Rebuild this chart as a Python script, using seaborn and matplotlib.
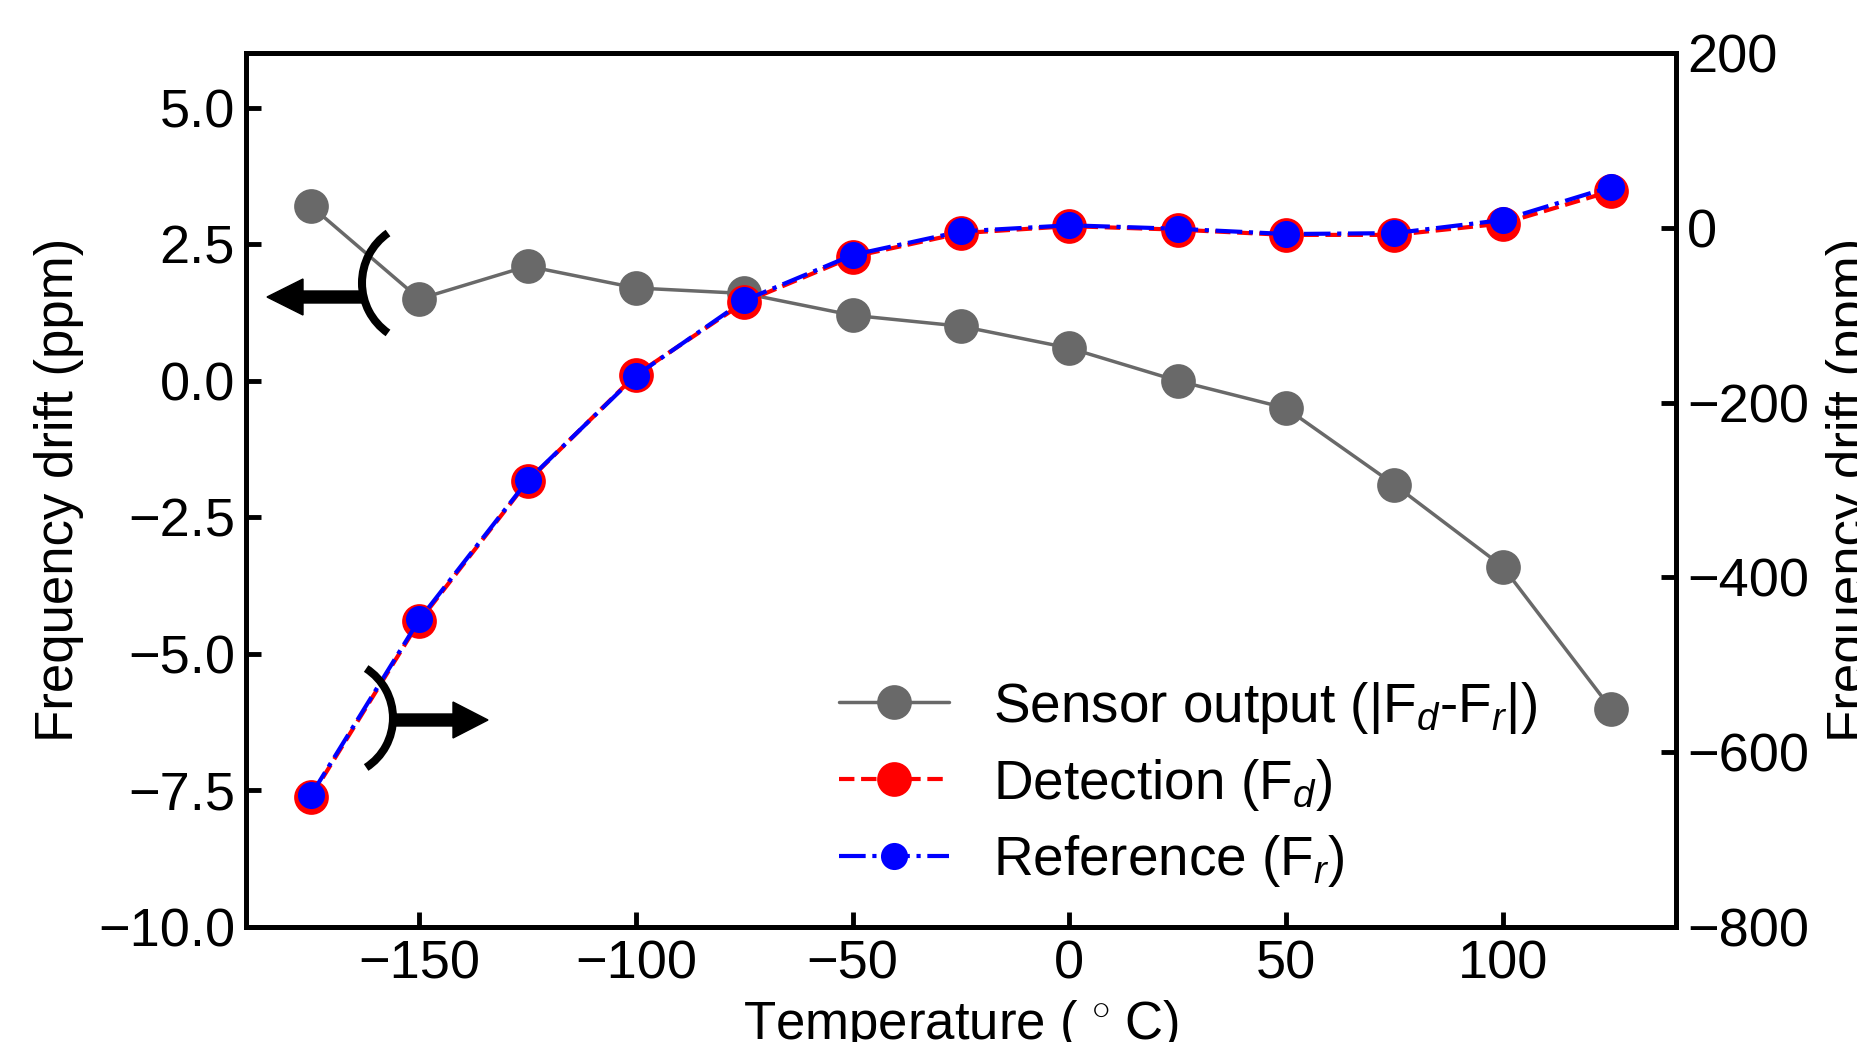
import matplotlib
matplotlib.use("Agg")
import matplotlib.pyplot as plt
import seaborn as sns
import pandas as pd
from matplotlib.patches import Arc, FancyArrow
from matplotlib.transforms import Affine2D
from matplotlib.ticker import FuncFormatter

# Measured drift versus temperature
temperature = [-175, -150, -125, -100, -75, -50, -25, 0, 25, 50, 75, 100, 125]
sensor_output = [3.2, 1.5, 2.1, 1.7, 1.6, 1.2, 1.0, 0.6, 0.0, -0.5, -1.9, -3.4, -6.0]
detection = [-651, -450, -290, -168, -85, -33, -6, 2, -2, -8, -8, 5, 42]
reference = [-649, -448, -289, -169, -83, -31, -4, 3, -1, -7, -6, 9, 47]

x_ticks = [-150, -100, -50, 0, 50, 100]
left_ticks = [-10.0, -7.5, -5.0, -2.5, 0.0, 2.5, 5.0]
right_ticks = [-800, -600, -400, -200, 0, 200]

label_sensor = r"Sensor output (|F$_d$-F$_r$|)"
label_detection = r"Detection (F$_d$)"
label_reference = r"Reference (F$_r$)"

df = pd.DataFrame({"T": temperature, "sensor": sensor_output,
                   "det": detection, "ref": reference})

sns.set_style("ticks")
plt.rcParams["font.family"] = ["Liberation Sans", "DejaVu Sans"]
plt.rcParams["mathtext.fontset"] = "custom"
plt.rcParams["mathtext.rm"] = "Liberation Sans"
plt.rcParams["mathtext.it"] = "Liberation Sans:italic"
plt.rcParams["mathtext.bf"] = "Liberation Sans:bold"
for key in ("text.color", "axes.labelcolor", "xtick.color", "ytick.color",
            "axes.edgecolor"):
    plt.rcParams[key] = "black"

W, H = 1857, 1042
TICK_FS = 39
LABEL_FS = 38
LEGEND_FS = 39.5
fig = plt.figure(figsize=(W / 100, H / 100), dpi=100)
ax = fig.add_axes([0.1325, 0.1104, 0.77, 0.8386])
ax2 = ax.twinx()
ax2.set_position(ax.get_position())

sns.lineplot(data=df, x="T", y="sensor", ax=ax, color="dimgray", linewidth=2.5,
             marker="o", markersize=25, markeredgewidth=0, label=label_sensor,
             legend=False)
sns.lineplot(data=df, x="T", y="det", ax=ax2, color="red", linewidth=3,
             linestyle="--", marker="o", markersize=25, markeredgewidth=0,
             label=label_detection, legend=False)
sns.lineplot(data=df, x="T", y="ref", ax=ax2, color="blue", linewidth=3,
             linestyle="-.", marker="o", markersize=19.5, markeredgewidth=0,
             label=label_reference, legend=False)

ax.set_xlim(-190, 140)
ax.set_ylim(-10, 6)
ax2.set_ylim(-800, 200)
ax.set_xticks(x_ticks)
ax.set_yticks(left_ticks)
ax2.set_yticks(right_ticks)
ax.yaxis.set_major_formatter(
    FuncFormatter(lambda v, _: f"{v:.1f}".replace("-", "\u2212")))

for a in (ax, ax2):
    for s in a.spines.values():
        s.set_linewidth(3.5)
        s.set_color("black")
    a.tick_params(direction="in", length=11, width=3.5, labelsize=TICK_FS,
                  pad=8, color="black")
ax.tick_params(axis="x", top=False, pad=9)
ax.tick_params(axis="y", right=False)
ax2.tick_params(axis="y", left=False, right=True)

ax.set_xlabel(r"Temperature ($\,^\circ\,$C)", fontsize=LABEL_FS, labelpad=6)
ax.set_ylabel("Frequency drift (ppm)", fontsize=LABEL_FS, labelpad=10)
ax2.set_ylabel("Frequency drift (ppm)", fontsize=LABEL_FS, labelpad=12)

h1, l1 = ax.get_legend_handles_labels()
h2, l2 = ax2.get_legend_handles_labels()
leg = ax2.legend(h1 + h2, l1 + l2, loc="center left",
                 bbox_to_anchor=(0.415, 0.163), frameon=False,
                 fontsize=LEGEND_FS, handlelength=2.0, handletextpad=0.8,
                 labelspacing=0.38, borderaxespad=0, borderpad=0)

# Bracket-and-arrow markers pointing each curve to its axis
px = Affine2D().scale(1 / W, -1 / H).translate(0, 1) + fig.transFigure
fig.add_artist(Arc((423, 283), 122, 122, theta1=125, theta2=235,
                   transform=px, color="black", linewidth=5.8))
fig.add_artist(FancyArrow(363, 297, -96, 0, width=12, head_width=36,
                          head_length=36, length_includes_head=True,
                          color="black", transform=px))
fig.add_artist(Arc((334, 718), 118, 118, theta1=-57, theta2=57,
                   transform=px, color="black", linewidth=5.8))
fig.add_artist(FancyArrow(393, 720, 95, 0, width=12, head_width=36,
                          head_length=35, length_includes_head=True,
                          color="black", transform=px))

fig.savefig("out.png", dpi=100)
